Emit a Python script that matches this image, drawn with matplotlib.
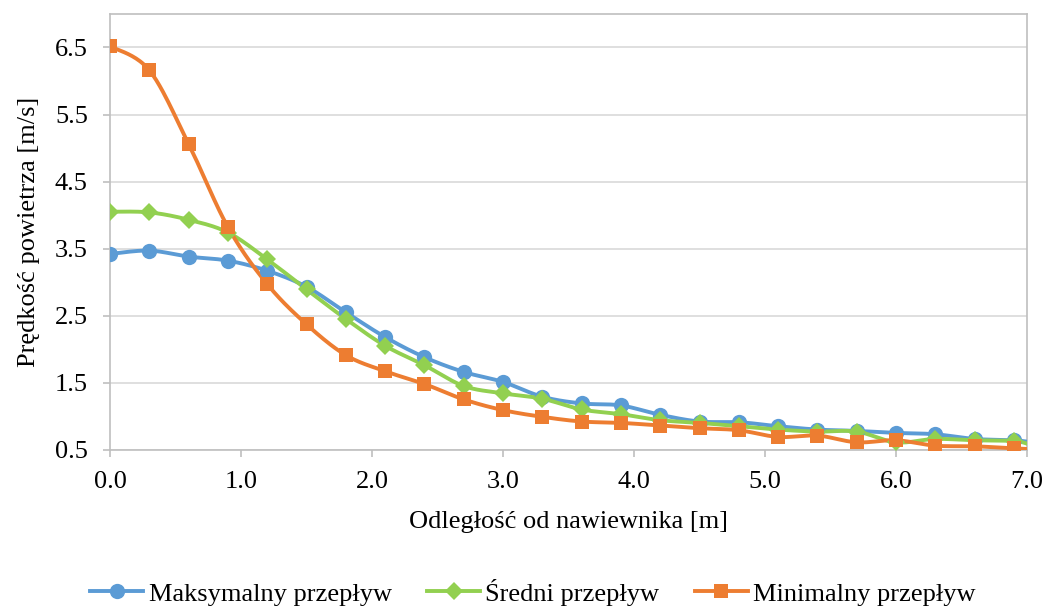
#!/usr/bin/env python3
"""Prędkość powietrza vs odległość od nawiewnika."""
import numpy as np
import matplotlib.pyplot as plt
from matplotlib.lines import Line2D

plt.rcParams['font.family'] = ['Liberation Serif', 'DejaVu Serif']

# x positions [m]; last point (7.0) only continues the line, no marker
odleglosc = [0.0, 0.3, 0.6, 0.9, 1.2, 1.5, 1.8, 2.1, 2.4, 2.7, 3.0, 3.3,
             3.6, 3.9, 4.2, 4.5, 4.8, 5.1, 5.4, 5.7, 6.0, 6.3, 6.6, 6.9, 7.0]
maks = [3.42, 3.47, 3.38, 3.32, 3.17, 2.93, 2.55, 2.18, 1.88, 1.66, 1.51, 1.29,
        1.19, 1.16, 1.02, 0.92, 0.91, 0.85, 0.80, 0.78, 0.75, 0.73, 0.66, 0.64, 0.62]
sredni = [4.05, 4.04, 3.93, 3.74, 3.34, 2.89, 2.45, 2.05, 1.76, 1.45, 1.34, 1.26,
          1.10, 1.03, 0.94, 0.90, 0.85, 0.80, 0.77, 0.77, 0.61, 0.66, 0.64, 0.63, 0.59]
minimalny = [6.52, 6.16, 5.06, 3.82, 2.97, 2.37, 1.91, 1.67, 1.48, 1.25, 1.09, 0.99,
             0.92, 0.90, 0.86, 0.82, 0.79, 0.69, 0.71, 0.61, 0.64, 0.56, 0.55, 0.52, 0.51]

series = [
    ("Maksymalny przepływ", maks, "#5B9BD5", "o", 11),
    ("Średni przepływ", sredni, "#92D050", "D", 9),
    ("Minimalny przepływ", minimalny, "#ED7D31", "s", 9.5),
]

FS = 19


def smooth(x, y, n=24):
    # Excel-like smoothed line (Catmull-Rom through bezier segments)
    x = np.asarray(x, float)
    y = np.asarray(y, float)
    px = np.concatenate([[x[0]], x, [x[-1]]])
    py = np.concatenate([[y[0]], y, [y[-1]]])
    xs, ys = [], []
    t = np.linspace(0, 1, n)
    for i in range(1, len(px) - 2):
        p0 = np.array([px[i], py[i]])
        p3 = np.array([px[i + 1], py[i + 1]])
        c1 = p0 + (np.array([px[i + 1], py[i + 1]]) - np.array([px[i - 1], py[i - 1]])) / 6
        c2 = p3 - (np.array([px[i + 2], py[i + 2]]) - np.array([px[i], py[i]])) / 6
        b = ((1 - t)[:, None] ** 3 * p0 + 3 * ((1 - t) ** 2 * t)[:, None] * c1
             + 3 * ((1 - t) * t ** 2)[:, None] * c2 + (t ** 3)[:, None] * p3)
        xs.extend(b[:, 0])
        ys.extend(b[:, 1])
    return xs, ys


fig = plt.figure(figsize=(10.47, 6.08), dpi=100)
ax = fig.add_axes([0.1051, 0.2604, 0.8758, 0.7166])

handles = []
for name, vals, color, marker, ms in series:
    sx, sy = smooth(odleglosc, vals)
    ax.plot(sx, sy, color=color, linewidth=2.8, zorder=3)
    ax.plot(odleglosc[:-1], vals[:-1], linestyle="none", marker=marker,
            markersize=ms, color=color, markeredgewidth=0, zorder=4)
    handles.append(Line2D([], [], color=color, linewidth=2.8, marker=marker,
                          markersize=ms, markeredgewidth=0, label=name))

ax.set_xlim(0, 7.0)
ax.set_ylim(0.5, 7.0)
ax.set_xticks(np.arange(0, 7.01, 1.0))
ax.set_yticks(np.arange(0.5, 6.51, 1.0))
ax.set_xticklabels([f"{v:.1f}" for v in np.arange(0, 7.01, 1.0)])
ax.set_yticklabels([f"{v:.1f}" for v in np.arange(0.5, 6.51, 1.0)])
ax.grid(axis="y", color="#D9D9D9", linewidth=1.2)
ax.set_axisbelow(True)
for s in ax.spines.values():
    s.set_color("#BFBFBF")
    s.set_linewidth(1.2)
ax.tick_params(axis="both", colors="#BFBFBF", labelcolor="black",
               labelsize=FS, length=5, width=1.2)
ax.tick_params(axis="x", pad=10)
ax.tick_params(axis="y", pad=11)

ax.set_xlabel("Odległość od nawiewnika [m]", fontsize=FS, labelpad=13)
ax.set_ylabel("Prędkość powietrza [m/s]", fontsize=FS, labelpad=11)

fig.legend(handles=handles, loc="lower center", ncol=3, frameon=False,
           fontsize=FS, bbox_to_anchor=(0.509, -0.035), handlelength=2.0,
           handletextpad=0.2, columnspacing=1.35)

fig.savefig("out.png", dpi=100)
